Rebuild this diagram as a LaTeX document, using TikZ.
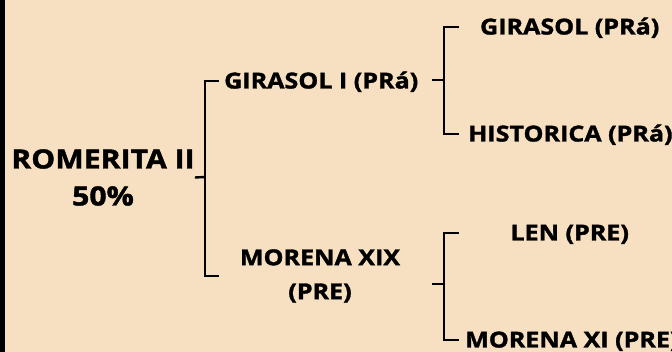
\documentclass[tikz,border=0pt]{standalone}
\usepackage{fontspec}
\setmainfont{Open Sans}[BoldFeatures={FakeStretch=1.14, FakeBold=1.5}]
\definecolor{bg}{HTML}{F6E0C1}
\tikzset{
  lbl/.style={font=\fontsize{22}{26}\selectfont\bfseries, text=black, inner ysep=0pt, text height=15pt, text depth=0pt},
  big/.style={font=\fontsize{26.5}{37}\selectfont\bfseries, text=black, inner sep=0pt, align=center},
  brk/.style={draw=black, line width=2.4pt}
}
\begin{document}
\begin{tikzpicture}[x=1pt,y=-1pt]
\useasboundingbox (0,0) rectangle (672,352);
\fill[bg] (0,0) rectangle (672,352);
\fill[black] (0,0) rectangle (5,352);
% nodes
\node[big] (rom) at (103,177.5) {ROMERITA II\\50\%};
\node[lbl, anchor=west, inner xsep=5pt] (g1) at (219,81) {GIRASOL I (PRá)};
\node[lbl, align=center, minimum width=202pt, inner sep=0pt, text height=, text depth=, font=\fontsize{22}{34}\selectfont\bfseries] (m1) at (320,276) {MORENA XIX\\(PRE)};
\node[lbl, minimum width=221pt, anchor=west] (g2) at (459,27) {GIRASOL (PRá)};
\node[lbl, anchor=west, inner xsep=9pt] (h) at (459,134) {HISTORICA (PRá)};
\node[lbl, minimum width=221pt, anchor=west] (len) at (459,233) {LEN (PRE)};
\node[lbl, anchor=west, inner xsep=6pt] (m2) at (459,340) {MORENA XI (PRE)};
% junctions
\coordinate (b0) at (205,177);
\coordinate (s1) at (432,80);
\coordinate (b1) at (444,80);
\coordinate (s2) at (432,284);
\coordinate (b2) at (444,284);
% connectors
\draw[brk] (rom.east) -- (b0);
\draw[brk] (g1.west) -| (b0) |- (m1.west);
\draw[brk] (s1) -- (b1);
\draw[brk] (g2.west) -| (b1) |- (h.west);
\draw[brk] (s2) -- (b2);
\draw[brk] (len.west) -| (b2) |- (m2.west);
\end{tikzpicture}
\end{document}
